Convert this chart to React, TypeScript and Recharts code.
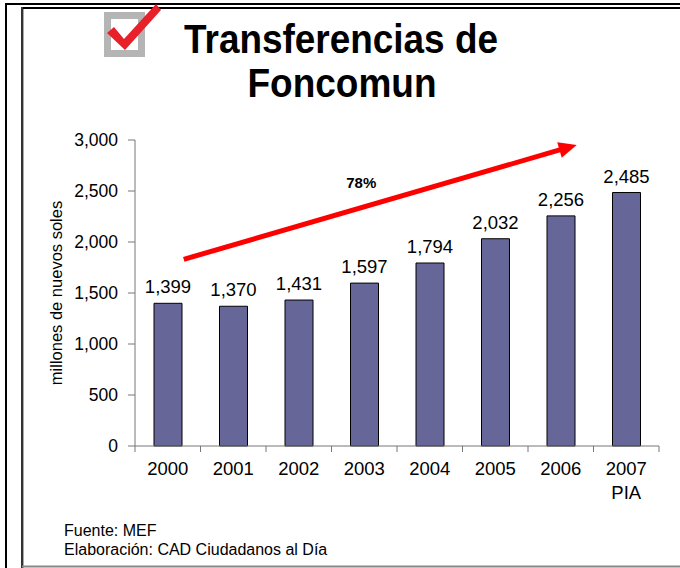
import React from "react";
import {
  BarChart,
  Bar,
  XAxis,
  YAxis,
  LabelList,
  ReferenceLine,
  ReferenceDot,
} from "recharts";

const years = ["2000", "2001", "2002", "2003", "2004", "2005", "2006", "2007"];
const yearNotes = ["", "", "", "", "", "", "", "PIA"];
const transfers = [1399, 1370, 1431, 1597, 1794, 2032, 2256, 2485];
const yTicks = [0, 500, 1000, 1500, 2000, 2500, 3000];
const growthLabel = "78%";
const arrowFrom = { x: "2000", y: 1830 };
const arrowTo = { x: "2006", y: 2951 };
const growthLabelPos = { x: "2003", y: 2529 };

const titleLines = ["Transferencias de", "Foncomun"];
const yAxisTitle = "millones de nuevos soles";
const footerLines = ["Fuente: MEF", "Elaboración: CAD Ciudadanos al Día"];

const data = years.map((y, i) => ({ year: y, note: yearNotes[i], value: transfers[i] }));

const FONT = "'Liberation Sans', Arial, Helvetica, sans-serif";
const fmt = (v: number) => v.toLocaleString("en-US");

const XTick = (props: any) => {
  const { x, y, payload, index } = props;
  const off = payload.offset || 0;
  const note = yearNotes[index];
  const last = index === years.length - 1;
  return (
    <g>
      <line x1={x - off} x2={x - off} y1={y - 15} y2={y - 9} stroke="#777" strokeWidth={1} />
      {last && <line x1={x + off} x2={x + off} y1={y - 15} y2={y - 9} stroke="#777" strokeWidth={1} />}
      <text x={x} y={y} textAnchor="middle" fontSize={18.5} fill="#000" fontFamily={FONT}>
        <tspan x={x} dy="0.78em">{payload.value}</tspan>
        {note && (
          <tspan x={x} dy={24}>
            {note}
          </tspan>
        )}
      </text>
    </g>
  );
};

const ARROW_SHIFT = 16;

const ArrowShape = (props: any) => {
  const { x1: ax1, y1, x2: ax2, y2 } = props;
  if ([ax1, y1, ax2, y2].some((v) => typeof v !== "number")) return null;
  const x1 = ax1 + ARROW_SHIFT;
  const x2 = ax2 + ARROW_SHIFT;
  const dx = x2 - x1;
  const dy = y2 - y1;
  const len = Math.sqrt(dx * dx + dy * dy);
  const ux = dx / len;
  const uy = dy / len;
  const headLen = 18;
  const headW = 8;
  const bx = x2 - ux * headLen;
  const by = y2 - uy * headLen;
  const px = -uy;
  const py = ux;
  return (
    <g>
      <line x1={x1} y1={y1} x2={bx + ux * 2} y2={by + uy * 2} stroke="#ff0000" strokeWidth={5} />
      <polygon
        points={`${x2},${y2} ${bx + px * headW},${by + py * headW} ${bx - px * headW},${by - py * headW}`}
        fill="#ff0000"
      />
    </g>
  );
};

const GrowthText = (props: any) => {
  const { cx, cy } = props;
  if (typeof cx !== "number") return null;
  return (
    <text x={cx - 3} y={cy} textAnchor="middle" fontSize={15} fontWeight="bold" fill="#000" fontFamily={FONT}>
      {growthLabel}
    </text>
  );
};

const YTitle = (props: any) => {
  const vb = props.viewBox || {};
  const x = (vb.x || 0) + 22;
  const y = (vb.y || 0) + (vb.height || 0) / 2;
  return (
    <text
      x={x}
      y={y}
      transform={`rotate(-90, ${x}, ${y})`}
      textAnchor="middle"
      fontSize={16.5}
      fill="#000"
      fontFamily={FONT}
    >
      {yAxisTitle}
    </text>
  );
};

export default function App() {
  return (
    <div
      style={{
        position: "absolute",
        left: 0,
        top: 0,
        width: 680,
        height: 568,
        background: "#fff",
        overflow: "hidden",
        fontFamily: FONT,
      }}
    >
      <svg width={680} height={568} style={{ position: "absolute", left: 0, top: 0 }}>
        {/* frame */}
        <line x1={5} x2={680} y1={4} y2={4} stroke="#000" strokeWidth={2} />
        <line x1={6} x2={6} y1={3} y2={568} stroke="#000" strokeWidth={2} />
        <line x1={21} x2={680} y1={8} y2={8} stroke="#000" strokeWidth={2} />
        <line x1={22} x2={22} y1={7} y2={568} stroke="#333" strokeWidth={2} />
        <line x1={23.5} x2={23.5} y1={9} y2={568} stroke="#aaa" strokeWidth={1} />
        <line x1={22} x2={680} y1={566.5} y2={566.5} stroke="#888" strokeWidth={2} />
        {/* icon */}
        <rect x={107.5} y={15.5} width={34} height={38} fill="none" stroke="#b5b5b5" strokeWidth={7} />
        <polygon points="107,33 114,27 124,39 156,4 161,10 125,50" fill="#e8202a" />
        {/* title */}
        <text
          x={341}
          y={53}
          textAnchor="middle"
          fontSize={40}
          fontWeight="bold"
          fill="#000"
          fontFamily={FONT}
          textLength={314}
          lengthAdjust="spacingAndGlyphs"
        >
          {titleLines[0]}
        </text>
        <text
          x={342}
          y={97}
          textAnchor="middle"
          fontSize={40}
          fontWeight="bold"
          fill="#000"
          fontFamily={FONT}
          textLength={189}
          lengthAdjust="spacingAndGlyphs"
        >
          {titleLines[1]}
        </text>
        {/* footer */}
        <text x={64} y={536} fontSize={16} fill="#000" fontFamily={FONT}>
          {footerLines[0]}
        </text>
        <text x={64} y={555} fontSize={16} fill="#000" fontFamily={FONT}>
          {footerLines[1]}
        </text>
      </svg>
      <div style={{ position: "absolute", left: 0, top: 0 }}>
        <BarChart
          width={680}
          height={568}
          data={data}
          margin={{ top: 140, right: 21, bottom: 92, left: 40 }}
          barSize={28}
        >
          <XAxis
            dataKey="year"
            axisLine={{ stroke: "#777", strokeWidth: 1 }}
            tickLine={false}
            tickSize={6}
            tickMargin={9}
            height={30}
            interval={0}
            tick={<XTick />}
          />
          <YAxis
            domain={[0, 3000]}
            ticks={yTicks}
            interval={0}
            width={95}
            axisLine={{ stroke: "#777", strokeWidth: 1 }}
            tickLine={{ stroke: "#777", strokeWidth: 1 }}
            tickSize={7}
            tickMargin={10}
            tickFormatter={fmt}
            tick={{ fontSize: 17.5, fill: "#000", fontFamily: FONT }}
            label={<YTitle />}
          />
          <Bar dataKey="value" fill="#666699" stroke="#000" strokeWidth={1} isAnimationActive={false}>
            <LabelList
              dataKey="value"
              position="top"
              offset={10}
              formatter={(v: any) => fmt(Number(v))}
              style={{ fontSize: 18.5, fill: "#000", fontFamily: FONT }}
            />
          </Bar>
          <ReferenceLine segment={[arrowFrom, arrowTo]} ifOverflow="visible" shape={<ArrowShape />} />
          <ReferenceDot
            x={growthLabelPos.x}
            y={growthLabelPos.y}
            r={0}
            ifOverflow="visible"
            shape={<GrowthText />}
          />
        </BarChart>
      </div>
    </div>
  );
}
